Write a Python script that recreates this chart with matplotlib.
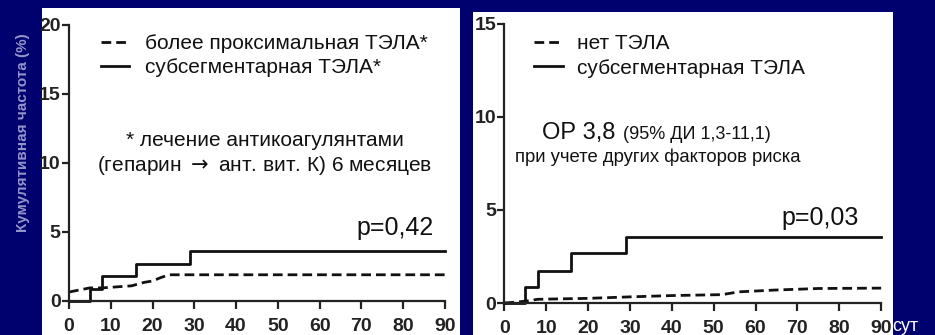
import matplotlib
matplotlib.use("Agg")
import matplotlib.pyplot as plt
from matplotlib.patches import Rectangle

plt.rcParams['font.family'] = ['Liberation Sans', 'DejaVu Sans']

# --- данные, дни / %
left_sub_x = [0, 5, 5, 8, 8, 16, 16, 29, 29, 90]
left_sub_y = [0, 0, 0.9, 0.9, 1.8, 1.8, 2.7, 2.7, 3.6, 3.6]
left_prox_x = [0, 5, 8, 15, 18, 20, 22, 24, 90]
left_prox_y = [0.65, 0.95, 0.95, 1.1, 1.35, 1.45, 1.7, 1.9, 1.9]

right_sub_x = [0, 5, 5, 8, 8, 16, 16, 29, 29, 90]
right_sub_y = [0, 0, 0.88, 0.88, 1.72, 1.72, 2.67, 2.67, 3.57, 3.57]
right_no_x = [0, 3, 5, 8, 20, 30, 40, 52, 56, 65, 75, 90]
right_no_y = [0, 0.05, 0.1, 0.2, 0.25, 0.33, 0.4, 0.45, 0.6, 0.7, 0.78, 0.8]

x_ticks = [0, 10, 20, 30, 40, 50, 60, 70, 80, 90]
left_yticks = [0, 5, 10, 15, 20]
right_yticks = [0, 5, 10, 15]

BG = "#00006e"
INK = "#111111"

fig = plt.figure(figsize=(9.35, 3.35), dpi=100)
fig.patch.set_facecolor(BG)

# белые подложки (под осями)
fig.patches.append(Rectangle((0.0449, 0.0), 0.447, 0.976, transform=fig.transFigure,
                             facecolor="white", edgecolor="none", zorder=-5))
fig.patches.append(Rectangle((0.5059, 0.0), 0.449, 0.964, transform=fig.transFigure,
                             facecolor="white", edgecolor="none", zorder=-5))

axL = fig.add_axes([0.0738, 0.1015, 0.402, 0.824])
axR = fig.add_axes([0.5394, 0.0955, 0.403, 0.833])


def style_axes(ax, ymax, yticks):
    ax.set_facecolor("none")
    ax.set_xlim(0, 90)
    ax.set_ylim(0, ymax)
    for s in ["top", "right"]:
        ax.spines[s].set_visible(False)
    for s in ["left", "bottom"]:
        ax.spines[s].set_linewidth(1.6)
        ax.spines[s].set_color("#222222")
    ax.set_xticks(x_ticks)
    ax.set_yticks(yticks)
    ax.tick_params(axis="x", direction="out", length=6, width=1.6,
                   color="#222222", labelcolor="#222222", labelsize=14, pad=6)
    ax.tick_params(axis="y", direction="out", length=5, width=1.6,
                   color="#222222", labelcolor="#222222", labelsize=14, pad=1)
    for lab in ax.get_xticklabels() + ax.get_yticklabels():
        lab.set_fontweight("bold")


style_axes(axL, 20, left_yticks)
style_axes(axR, 15, right_yticks)

# левая панель
axL.plot(left_prox_x, left_prox_y, color=INK, lw=2, ls=(0, (3.5, 1.8)),
         label="более проксимальная ТЭЛА*", clip_on=False)
axL.plot(left_sub_x, left_sub_y, color=INK, lw=2,
         label="субсегментарная ТЭЛА*", clip_on=False)
axL.legend(loc="upper left", bbox_to_anchor=(0.035, 1.035), frameon=False,
           fontsize=15, handlelength=1.35, handletextpad=0.75, labelspacing=0.25,
           labelcolor=INK)
axL.text(0.52, 0.583, "* лечение антикоагулянтами", transform=axL.transAxes,
         ha="center", va="center", fontsize=15, color=INK)
axL.text(0.52, 0.49, r"(гепарин $\rightarrow$ ант. вит. К) 6 месяцев",
         transform=axL.transAxes, ha="center", va="center", fontsize=15, color=INK)
axL.text(0.97, 0.264, "p=0,42", transform=axL.transAxes,
         ha="right", va="center", fontsize=18, color=INK)
fig.text(0.0245, 0.603, "Кумулятивная частота (%)", rotation=90, ha="center",
         va="center", fontsize=11, fontweight="bold", color="#9494cc")

# правая панель
axR.plot(right_no_x, right_no_y, color=INK, lw=2, ls=(0, (3.5, 1.8)),
         label="нет ТЭЛА", clip_on=False)
axR.plot(right_sub_x, right_sub_y, color=INK, lw=2,
         label="субсегментарная ТЭЛА", clip_on=False)
axR.legend(loc="upper left", bbox_to_anchor=(0.03, 1.03), frameon=False,
           fontsize=15, handlelength=1.35, handletextpad=0.7, labelspacing=0.25,
           labelcolor=INK)
axR.text(0.10, 0.61, "ОР 3,8", transform=axR.transAxes,
         ha="left", va="center", fontsize=17, color=INK)
axR.text(0.315, 0.605, "(95% ДИ 1,3-11,1)", transform=axR.transAxes,
         ha="left", va="center", fontsize=13, color=INK)
axR.text(0.028, 0.523, "при учете других факторов риска", transform=axR.transAxes,
         ha="left", va="center", fontsize=13.3, color=INK)
axR.text(0.94, 0.305, "p=0,03", transform=axR.transAxes,
         ha="right", va="center", fontsize=18, color=INK)
fig.text(0.968, 0.025, "сут", ha="center", va="center", fontsize=13, color="white")

fig.savefig("out.png", dpi=100, facecolor=BG)
